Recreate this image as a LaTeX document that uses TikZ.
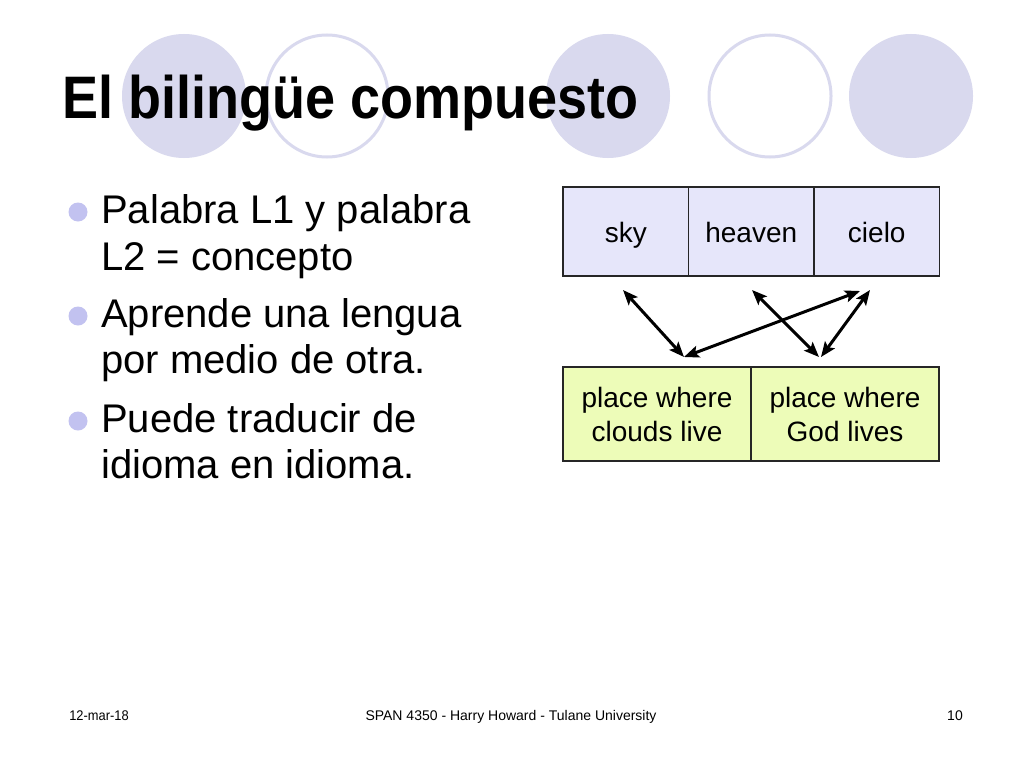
\documentclass[tikz,border=0pt]{standalone}
\usepackage{fontspec}
\usepackage{graphicx}
\setmainfont{Liberation Sans}
\usetikzlibrary{arrows.meta}
\definecolor{circfill}{HTML}{D9D9EE}
\definecolor{bulletc}{HTML}{C2C2F0}
\definecolor{topfill}{HTML}{E6E6FA}
\definecolor{botfill}{HTML}{EDFCB8}
\begin{document}
\begin{tikzpicture}[x=1pt,y=-1pt,
  deco/.style={fill=circfill,draw=none},
  ring/.style={draw=circfill,line width=3pt,fill=white},
  bul/.style={circle,fill=bulletc,minimum size=19pt,inner sep=0pt},
  btext/.style={anchor=base west,inner sep=0pt,font=\fontsize{40}{47}\selectfont},
  cell/.style={draw=black!85,line width=1.5pt,inner sep=0pt,font=\fontsize{28}{34}\selectfont,align=center},
  topbox/.style={cell,fill=topfill,minimum width=125.5pt,minimum height=89pt,text height=22pt,text depth=0pt},
  botbox/.style={cell,fill=botfill,minimum width=188pt,minimum height=94pt},
  link/.style={{Stealth[length=15pt,width=12pt,inset=3pt]}-{Stealth[length=15pt,width=12pt,inset=3pt]},line width=3pt,black},
  foot/.style={anchor=base,inner sep=0pt,font=\fontsize{14}{16}\selectfont}
]
\useasboundingbox[fill=white] (0,0) rectangle (1024,768);
% decorative circles
\fill[deco] (184,96) circle (62pt);
\draw[ring] (327,96) circle (61pt);
\fill[deco] (608,96) circle (62pt);
\draw[ring] (770,96) circle (61pt);
\fill[deco] (911,96) circle (62pt);
% title
\node[anchor=base west,inner sep=0pt,font=\bfseries\fontsize{60}{66}\selectfont] (title) at (62,118) {\scalebox{0.9}[1]{El bilingüe compuesto}};
% bullets
\node[bul] (d1) at (78,212) {};
\node[btext] (l1) at (101,223) {Palabra L1 y palabra};
\node[btext] (l2) at (101,270) {L2 = concepto};
\node[bul] (d2) at (78,316) {};
\node[btext] (l3) at (101,327) {Aprende una lengua};
\node[btext] (l4) at (101,373) {por medio de otra.};
\node[bul] (d3) at (78,421) {};
\node[btext] (l5) at (101,432) {Puede traducir de};
\node[btext] (l6) at (101,478) {idioma en idioma.};
% top boxes
\node[topbox] (sky) at (625.75,231.5) {sky};
\node[topbox] (heaven) at (751.25,231.5) {heaven};
\node[topbox] (cielo) at (876.75,231.5) {cielo};
% bottom boxes
\node[botbox] (clouds) at (657,414) {place where\\clouds live};
\node[botbox] (god) at (845,414) {place where\\God lives};
% arrow ends
\coordinate (skyP) at (623,290);
\coordinate (heavenP) at (752,290);
\coordinate (cieloPa) at (860,291);
\coordinate (cieloPb) at (870,290);
\coordinate (cloudsP) at (684,357);
\coordinate (godPa) at (819,357);
\coordinate (godPb) at (821,357);
\draw[link] (skyP) -- (cloudsP);
\draw[link] (cieloPa) -- (cloudsP);
\draw[link] (heavenP) -- (godPa);
\draw[link] (cieloPb) -- (godPb);
% footer
\node[foot] (date) at (99,720) {\scalebox{0.92}[1]{12-mar-18}};
\node[foot] (course) at (511,720) {SPAN 4350 - Harry Howard - Tulane University};
\node[foot] (page) at (955,720) {10};
\end{tikzpicture}
\end{document}
